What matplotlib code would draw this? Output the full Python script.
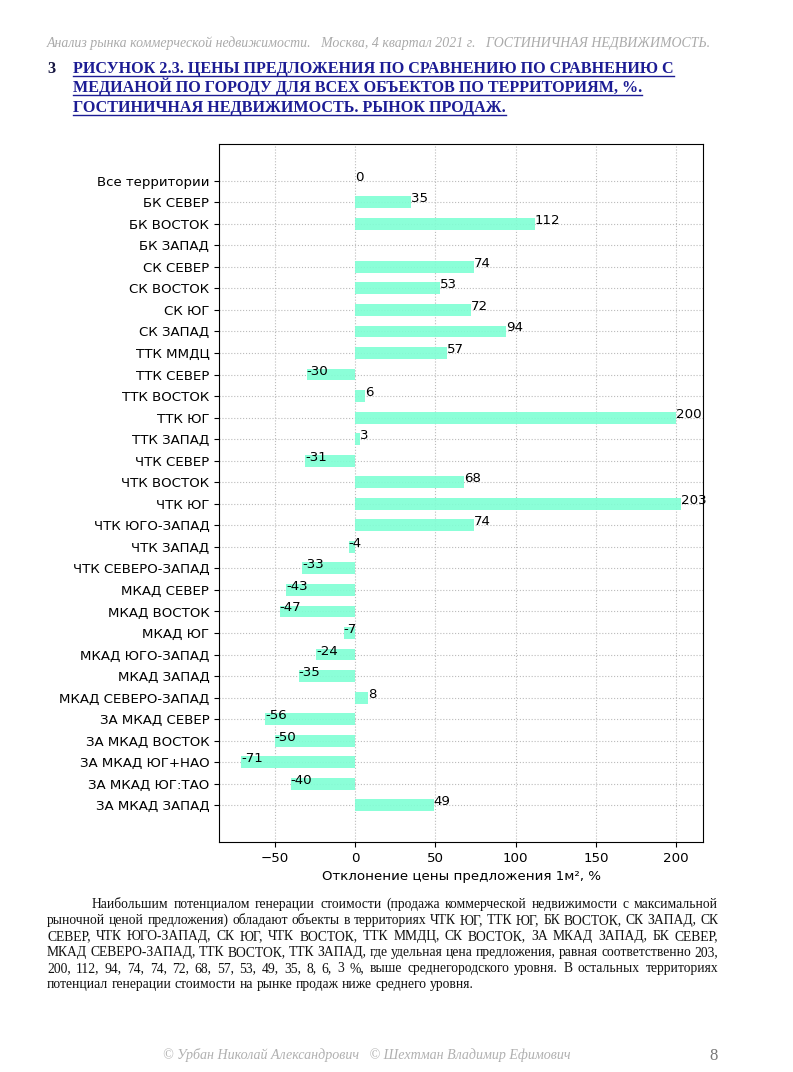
import numpy as np
import matplotlib
matplotlib.use("Agg")
import matplotlib.pyplot as plt
from matplotlib.lines import Line2D

# ---------------------------------------------------------------
# data (read from the reference page)
# ---------------------------------------------------------------
territories = [
    "Все территории", "БК СЕВЕР", "БК ВОСТОК", "БК ЗАПАД", "СК СЕВЕР",
    "СК ВОСТОК", "СК ЮГ", "СК ЗАПАД", "ТТК ММДЦ", "ТТК СЕВЕР",
    "ТТК ВОСТОК", "ТТК ЮГ", "ТТК ЗАПАД", "ЧТК СЕВЕР", "ЧТК ВОСТОК",
    "ЧТК ЮГ", "ЧТК ЮГО-ЗАПАД", "ЧТК ЗАПАД", "ЧТК СЕВЕРО-ЗАПАД",
    "МКАД СЕВЕР", "МКАД ВОСТОК", "МКАД ЮГ", "МКАД ЮГО-ЗАПАД",
    "МКАД ЗАПАД", "МКАД СЕВЕРО-ЗАПАД", "ЗА МКАД СЕВЕР", "ЗА МКАД ВОСТОК",
    "ЗА МКАД ЮГ+НАО", "ЗА МКАД ЮГ:ТАО", "ЗА МКАД ЗАПАД",
]
# БК ЗАПАД has no value on the chart
deviation = [
    0, 35, 112, np.nan, 74, 53, 72, 94, 57, -30,
    6, 200, 3, -31, 68, 203, 74, -4, -33,
    -43, -47, -7, -24, -35, 8, -56, -50, -71, -40, 49,
]

header = ("Анализ рынка коммерческой недвижимости.   Москва, 4 квартал 2021 г.   "
          "ГОСТИНИЧНАЯ НЕДВИЖИМОСТЬ.")
title_lines = [
    "РИСУНОК 2.3. ЦЕНЫ ПРЕДЛОЖЕНИЯ ПО СРАВНЕНИЮ ПО СРАВНЕНИЮ С",
    "МЕДИАНОЙ ПО ГОРОДУ ДЛЯ ВСЕХ ОБЪЕКТОВ ПО ТЕРРИТОРИЯМ, %.",
    "ГОСТИНИЧНАЯ НЕДВИЖИМОСТЬ. РЫНОК ПРОДАЖ.",
]
body_lines = [
    "Наибольшим потенциалом генерации стоимости (продажа коммерческой недвижимости с максимальной",
    "рыночной ценой предложения) обладают объекты в территориях ЧТК ЮГ, ТТК ЮГ, БК ВОСТОК, СК ЗАПАД, СК",
    "СЕВЕР, ЧТК ЮГО-ЗАПАД, СК ЮГ, ЧТК ВОСТОК, ТТК ММДЦ, СК ВОСТОК, ЗА МКАД ЗАПАД, БК СЕВЕР,",
    "МКАД СЕВЕРО-ЗАПАД, ТТК ВОСТОК, ТТК ЗАПАД, где удельная цена предложения, равная соответственно 203,",
    "200, 112, 94, 74, 74, 72, 68, 57, 53, 49, 35, 8, 6, 3 %, выше среднегородского уровня. В остальных территориях",
    "потенциал генерации стоимости на рынке продаж ниже среднего уровня.",
]
footer = "© Урбан Николай Александрович   © Шехтман Владимир Ефимович"
page_no = "8"

W, H = 793, 1072
fig = plt.figure(figsize=(W / 100, H / 100), dpi=100)
renderer = fig.canvas.get_renderer()
SERIF = "Liberation Serif"


def fx(x):
    return x / W


def fy(y):
    return 1 - y / H


def fit_text(s, x, y, width, **kw):
    # put text at pixel pos and scale font so it spans `width` pixels
    t = fig.text(fx(x), fy(y), s, fontsize=10, va="baseline", **kw)
    w = t.get_window_extent(renderer).width
    t.set_fontsize(10 * width / w)
    return t


def justify(s, x0, x1, y, size, last=False):
    words = s.split()
    texts = [fig.text(0, fy(y), w, fontsize=size, family=SERIF,
                      color="#111111", va="baseline") for w in words]
    widths = [t.get_window_extent(renderer).width for t in texts]
    space = size * 0.25 * 100 / 72
    if not last and len(words) > 1:
        space = (x1 - x0 - sum(widths)) / (len(words) - 1)
    x = x0
    for t, w in zip(texts, widths):
        t.set_x(fx(x))
        x += w + space


# ---------------------------------------------------------------
# page texts
# ---------------------------------------------------------------
fit_text(header, 47, 47, 667, family=SERIF, style="italic", color="#aaaaaa")

fig.text(fx(47), fy(73), "3", fontsize=11.8, family=SERIF, weight="bold",
         color="#151540", va="baseline")
for i, line in enumerate(title_lines):
    y = 73 + i * 19.5
    t = fig.text(fx(73), fy(y), line, fontsize=11.6, family=SERIF,
                 weight="bold", color="#1c1c94", va="baseline")
    bb = t.get_window_extent(renderer)
    fig.add_artist(Line2D([bb.x0 / W, bb.x1 / W], [fy(y + 2.5)] * 2,
                          color="#1c1c94", linewidth=1.0))

for i, line in enumerate(body_lines):
    x0 = 92 if i == 0 else 47
    justify(line, x0, 718, 908 + i * 16, 9.8, last=(i == len(body_lines) - 1))

fit_text(footer, 163, 1059, 410, family=SERIF, style="italic", color="#b0b0b0")
fig.text(fx(709), fy(1060), page_no, fontsize=12, family=SERIF,
         color="#777777", va="baseline")

# ---------------------------------------------------------------
# chart
# ---------------------------------------------------------------
ax = fig.add_axes([219 / W, 1 - 842 / H, (703 - 219) / W, (842 - 144) / H])
ypos = np.arange(len(territories))
vals = np.array(deviation, dtype=float)
has = ~np.isnan(vals)

ax.barh(ypos[has], vals[has], height=0.55, color="aquamarine", alpha=0.9,
        zorder=2)
for y, v in zip(ypos[has], vals[has]):
    ax.text(v, y, f"{v:.0f}", ha="left", va="baseline", fontsize=9.6,
            zorder=3)

ax.set_yticks(ypos)
ax.set_yticklabels(territories, fontsize=9.6)
ax.set_ylim(len(territories) - 1 + 1.7, -1.7)
ax.tick_params(axis="x", labelsize=9.6)
ax.set_xlabel("Отклонение цены предложения 1м², %", fontsize=9.6)
ax.set_axisbelow(True)
ax.grid(True, linestyle=":", color="#bbbbbb", linewidth=0.8)

fig.savefig("out.png", dpi=100)
